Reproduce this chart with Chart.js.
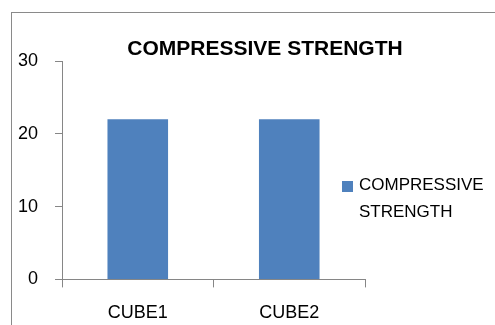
<!DOCTYPE html>
<html>
<head>
<meta charset="utf-8">
<script src="https://cdn.jsdelivr.net/npm/chart.js@4/dist/chart.umd.min.js"></script>
<style>
  html, body { margin: 0; padding: 0; background: #fff; overflow: hidden; }
  body { width: 495px; height: 325px; position: relative; }
  #frame { position: absolute; left: 11px; top: 12px; width: 600px; height: 400px;
           border: 1px solid #8a8a8a; box-sizing: border-box; }
  #c { position: absolute; left: 0; top: 0; }
  #legend { position: absolute; left: 342px; top: 171px; font-family: "Liberation Sans", Arial, sans-serif;
            font-size: 17px; line-height: 27px; color: #000; }
  #legend .item { position: relative; padding-left: 17px; width: 135px; }
  #legend .swatch { position: absolute; left: 0; top: 10px; width: 11px; height: 11px; }
</style>
</head>
<body>
<div id="frame"></div>
<canvas id="c" width="495" height="325"></canvas>
<div id="legend"></div>
<script>
// Categories, values and axis ticks
const categories = ['CUBE1', 'CUBE2'];
const strength = [22, 22];
const yTicks = [0, 10, 20, 30];
const seriesLabel = 'COMPRESSIVE STRENGTH';
const chartTitle = 'COMPRESSIVE STRENGTH';

const barColor = '#4F81BD';
const axisColor = '#868686';
const fontFamily = '"Liberation Sans", Arial, sans-serif';

const chart = new Chart(document.getElementById('c'), {
  type: 'bar',
  data: {
    labels: categories,
    datasets: [{
      label: seriesLabel,
      data: strength,
      backgroundColor: barColor,
      borderWidth: 0,
      categoryPercentage: 0.8,
      barPercentage: 0.5,
      yAxisID: 'y'
    }]
  },
  options: {
    responsive: false,
    animation: false,
    devicePixelRatio: 1,
    // right padding reaches past the canvas so the title centres over the plot + legend column
    layout: { padding: { left: 1, right: -34, top: 39, bottom: -14 } },
    plugins: {
      legend: { display: false },
      tooltip: { enabled: false },
      title: {
        display: true,
        text: chartTitle,
        color: '#000',
        font: { family: fontFamily, size: 21, weight: 'bold', lineHeight: 1 },
        padding: { top: 0, bottom: 1 }
      }
    },
    scales: {
      x: {
        offset: true,
        border: { display: true, color: axisColor, width: 1 },
        grid: { display: true, offset: true, drawOnChartArea: false, drawTicks: true,
                tickLength: 8, color: axisColor },
        ticks: { color: '#000', padding: 15, font: { family: fontFamily, size: 18 } }
      },
      y: {
        position: 'left',
        min: yTicks[0],
        max: yTicks[yTicks.length - 1],
        border: { display: true, color: axisColor, width: 1 },
        grid: { display: true, drawOnChartArea: false, drawTicks: true, tickLength: 7, color: axisColor },
        ticks: { stepSize: yTicks[1] - yTicks[0], color: '#000', padding: 17,
                 font: { family: fontFamily, size: 18 } }
      },
      // empty right-hand box that keeps the legend column clear of the plot
      side: {
        position: 'right',
        display: true,
        border: { display: false },
        grid: { display: false },
        ticks: { display: false },
        afterFit: (scale) => { scale.width = 164; }
      }
    }
  }
});

// Legend built from the chart's own dataset entries
const legendEl = document.getElementById('legend');
chart.options.plugins.legend.labels.generateLabels(chart).forEach((it) => {
  const row = document.createElement('div');
  row.className = 'item';
  const sw = document.createElement('span');
  sw.className = 'swatch';
  sw.style.background = it.fillStyle;
  row.appendChild(sw);
  row.appendChild(document.createTextNode(it.text));
  legendEl.appendChild(row);
});
</script>
</body>
</html>
